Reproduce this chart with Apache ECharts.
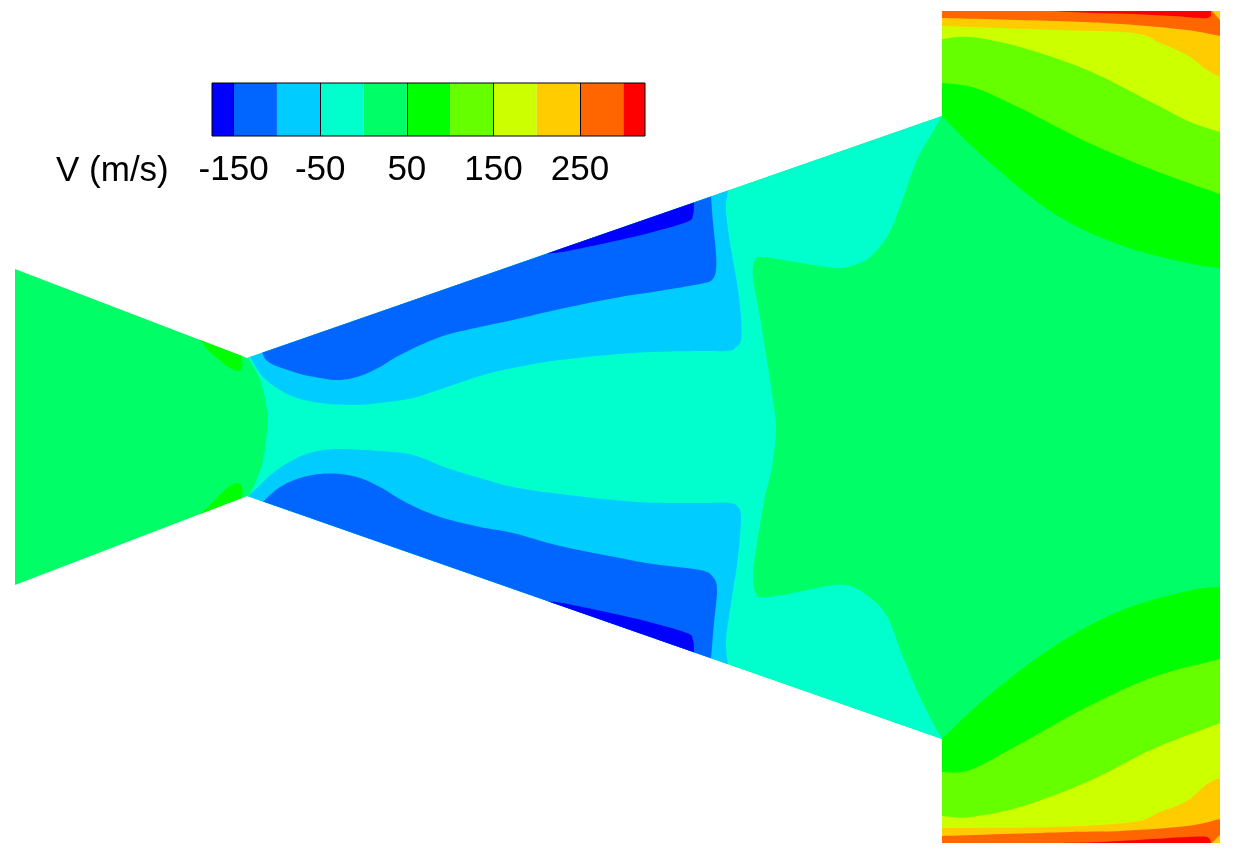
<!DOCTYPE html>
<html>
<head>
<meta charset="utf-8">
<style>html,body{margin:0;padding:0;background:#fff}#c{width:1235px;height:854px}</style>
<script src="https://cdn.jsdelivr.net/npm/echarts@6/dist/echarts.min.js"></script>
</head>
<body>
<div id="c"></div>
<script>
// Colour scale
const bandEdges = [-175,-150,-100,-50,0,50,100,150,200,250,300,325];
const bandColors = ['#0000ff','#0066ff','#00ccff','#00ffcc','#00ff66','#00ff00','#66ff00','#ccff00','#ffcc00','#ff6600','#ff0000'];
const tickValues = [-150,-50,50,150,250];

// Domain walls
const domain = [[15,269],[247,358],[942,116],[942,11],[1220,11],[1220,843],[942,843],[942,739],[247,496],[15,585]];

// Contour lines (x, y along the nozzle plane)
const throat = [[248,358],[260,380],[267,410],[267,430],[263,460],[255,483],[248,496]];
const coreEdge = [[942,116],[935,128],[917,160],[900,207],[887,237],[870,257],[857,264],[840,268],[813,265],[783,260],[763,257],[755,260],[753,277],[760,317],[768,367],[773,400],[776,430],[772,467],[765,497],[757,543],[753,577],[757,595],[767,597],[793,593],[833,585],[853,587],[873,600],[888,618],[903,657],[920,697],[933,723],[942,739]];

const cyanTop = [[250,357],[263,377],[280,390],[297,398],[320,403],[353,405],[380,403],[413,398],[447,387],[480,376],[513,368],[560,360],[620,354],[653,352],[700,351],[727,351],[735,348],[741,340],[741,317],[737,283],[730,243],[726,210],[728,190.5]];
const blueTop = [[262,352.8],[270,363],[297,373],[320,378],[340,380],[360,376],[380,367],[400,355],[440,337],[480,327],[513,320],[560,309],[620,297],[653,292],[700,284],[712,280],[716,270],[716,253],[713,223],[711,196.4]];
const deepTop = [[547,253.5],[563,252],[587,247],[620,240],[653,232],[687,222],[693,215],[694,202.4]];
const cyanBottom = [[248,496.3],[257,488],[273,473],[293,460],[313,452],[340,449],[380,451],[413,455],[447,468],[480,478],[513,487],[560,494],[637,502],[700,503],[728,503],[737,506],[741,517],[738,557],[732,597],[726,640],[728,664.2]];
const blueBottom = [[263,501.6],[280,487],[300,478],[320,474],[340,474],[360,478],[380,487],[407,503],[440,517],[480,527],[513,533],[560,546],[620,558],[653,564],[700,570],[713,577],[717,590],[714,623],[711,658.2]];
const deepBottom = [[548,601.2],[563,603],[587,608],[620,615],[653,623],[687,633],[693,640],[694,652.3]];

const patchTop = [[200,340],[208,350],[217,358],[230,368],[238,371],[242,367],[242,356]];
const patchBottom = [[200,514],[213,502],[227,488],[237,483],[242,487],[242,498]];

const top100 = [[942,116],[987,160],[1053,213],[1120,245],[1187,263],[1220,268]];
const top150 = [[942,83],[975,88],[1020,108],[1087,142],[1153,170],[1220,194]];
const top200 = [[942,39],[970,37],[1020,47],[1087,70],[1153,103],[1190,122],[1220,132]];
const top250 = [[942,26],[1053,30],[1133,33],[1160,43],[1187,55],[1207,70],[1220,77]];
const top300 = [[942,18],[1053,21],[1120,24],[1187,30],[1220,36]];
const topCorner = [[1220,20],[1212,11]];
const topPeak = [[1053,11],[1093,13],[1133,14],[1173,16],[1207,18],[1211,11]];

const bottom100 = [[942,739],[987,697],[1053,647],[1120,611],[1187,591],[1220,587]];
const bottom150 = [[942,772],[970,770],[1020,744],[1087,707],[1153,677],[1220,659]];
const bottom200 = [[942,816],[970,817],[1020,807],[1087,782],[1153,749],[1220,723]];
const bottom250 = [[942,828],[1053,827],[1133,822],[1160,812],[1187,801],[1207,784],[1220,778]];
const bottom300 = [[942,836],[1070,832],[1120,831],[1187,826],[1220,819]];
const bottomCorner = [[1220,835],[1212,843]];
const bottomPeak = [[1060,843],[1100,842],[1153,839],[1187,837],[1207,837],[1211,843]];

const TR = [[1220,11]], TL = [[942,11]], BR = [[1220,843]], BL = [[942,843]];

// Painted in order: [band level, runs]; a one-point run is a straight join, longer runs are smooth.
const regions = [
  [25, domain.map(p => [p])],
  [-25, [throat.slice().reverse(), [[942,116]], coreEdge]],
  [-75, [cyanTop]], [-75, [cyanBottom]],
  [-125, [blueTop]], [-125, [blueBottom]],
  [-160, [deepTop]], [-160, [deepBottom]],
  [75, [patchTop]], [75, [patchBottom]],
  [75, [top100, TR, TL]], [125, [top150, TR, TL]], [175, [top200, TR, TL]], [225, [top250, TR, TL]], [275, [top300, TR, TL]],
  [225, [topCorner, TR]], [310, [topPeak]],
  [75, [bottom100, BR, BL]], [125, [bottom150, BR, BL]], [175, [bottom200, BR, BL]], [225, [bottom250, BR, BL]], [275, [bottom300, BR, BL]],
  [225, [bottomCorner, BR]], [310, [bottomPeak]]
];

function colorOf(level) {
  for (let i = 0; i < bandColors.length; i++) {
    if (level >= bandEdges[i] && level < bandEdges[i + 1]) return bandColors[i];
  }
  return bandColors[bandColors.length - 1];
}

function smoothRun(pts, started) {
  let d = (started ? 'L' : 'M') + pts[0][0] + ' ' + pts[0][1];
  for (let i = 0; i < pts.length - 1; i++) {
    const p0 = pts[Math.max(i - 1, 0)], p1 = pts[i], p2 = pts[i + 1], p3 = pts[Math.min(i + 2, pts.length - 1)];
    const c1 = [p1[0] + (p2[0] - p0[0]) / 6, p1[1] + (p2[1] - p0[1]) / 6];
    const c2 = [p2[0] - (p3[0] - p1[0]) / 6, p2[1] - (p3[1] - p1[1]) / 6];
    d += 'C' + c1[0] + ' ' + c1[1] + ' ' + c2[0] + ' ' + c2[1] + ' ' + p2[0] + ' ' + p2[1];
  }
  return d;
}

const chart = echarts.init(document.getElementById('c'));
chart.setOption({
  animation: false,
  backgroundColor: '#ffffff',
  title: {
    text: 'V (m/s)', left: 51, top: 149,
    textStyle: {fontFamily: 'Liberation Sans', fontSize: 35, fontWeight: 'normal', color: '#000'}
  },
  grid: [
    {left: 0, top: 0, width: 1235, height: 854, show: false},
    {left: 212, top: 83, width: 433, height: 53, show: false}
  ],
  xAxis: [
    {gridIndex: 0, type: 'value', min: 0, max: 1235, show: false},
    {gridIndex: 1, type: 'value', min: bandEdges[0], max: bandEdges[bandEdges.length - 1], z: 10,
     axisLine: {show: false}, splitLine: {show: false},
     axisTick: {show: true, inside: true, length: 53, customValues: tickValues, lineStyle: {color: '#000', width: 1}},
     axisLabel: {show: true, customValues: tickValues, margin: 17, color: '#000', fontFamily: 'Liberation Sans', fontSize: 35, hideOverlap: false}}
  ],
  yAxis: [
    {gridIndex: 0, type: 'value', min: 0, max: 854, inverse: true, show: false},
    {gridIndex: 1, type: 'value', min: 0, max: 1, show: false}
  ],
  series: [
    {
      type: 'custom', name: 'contours', xAxisIndex: 0, yAxisIndex: 0, silent: true, clip: false,
      data: regions.map((r, i) => [i]),
      encode: {x: 0},
      renderItem: function (params, api) {
        const region = regions[api.value(0)];
        let d = '';
        region[1].forEach(function (run, k) {
          d += smoothRun(run.map(p => api.coord(p)), k > 0);
        });
        d += 'Z';
        return {type: 'path', shape: {pathData: d},
                style: {fill: colorOf(region[0]), stroke: null}};
      }
    },
    {
      type: 'custom', name: 'scale', xAxisIndex: 1, yAxisIndex: 1, silent: true,
      data: bandColors.map((c, i) => [bandEdges[i], bandEdges[i + 1]]),
      encode: {x: [0, 1]},
      renderItem: function (params, api) {
        const a = api.coord([api.value(0), 1]), b = api.coord([api.value(1), 0]);
        return {type: 'rect', shape: {x: a[0], y: a[1], width: b[0] - a[0], height: b[1] - a[1]},
                style: {fill: bandColors[params.dataIndex], stroke: null}};
      }
    },
    {
      type: 'custom', name: 'frame', xAxisIndex: 1, yAxisIndex: 1, silent: true, z: 11,
      data: [[bandEdges[0], bandEdges[bandEdges.length - 1]]],
      encode: {x: [0, 1]},
      renderItem: function (params, api) {
        const a = api.coord([api.value(0), 1]), b = api.coord([api.value(1), 0]);
        return {type: 'rect', shape: {x: a[0], y: a[1], width: b[0] - a[0], height: b[1] - a[1]},
                style: {fill: 'none', stroke: '#000', lineWidth: 1}};
      }
    }
  ]
});
</script>
</body>
</html>
